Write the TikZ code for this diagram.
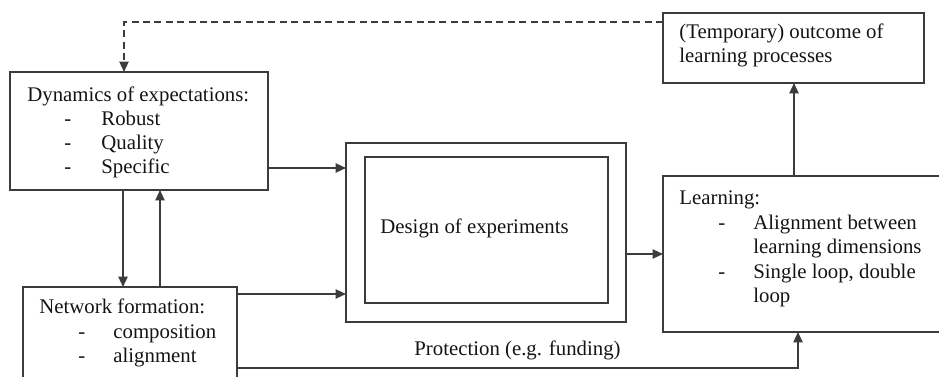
\documentclass[tikz,border=0pt]{standalone}
\usepackage{fontspec}
\setmainfont{Liberation Serif}
\usetikzlibrary{arrows.meta}
\definecolor{edge}{HTML}{3C3C3C}
\definecolor{ink}{HTML}{141418}
\begin{document}
\begin{tikzpicture}[x=0.5pt,y=-0.5pt,
  box/.style={draw=edge,line width=0.9pt},
  txt/.style={anchor=base west,inner sep=0pt,text=ink,font=\fontsize{10.4}{12.3}\selectfont},
  conn/.style={draw=edge,line width=0.9pt,-{Triangle[length=5.2pt,width=4.6pt]}},
  feedback/.style={conn,dash pattern=on 3.5pt off 2.2pt}]
\useasboundingbox (0,0) rectangle (939,376);
\clip (0,0) rectangle (939,376);

% boxes (corner to corner)
\draw[box] (10,72) rectangle (268,190);
\draw[box] (23,287) rectangle (237,395);
\draw[box] (346,143) rectangle (626,322);
\draw[box] (365,157) rectangle (608,303);
\draw[box] (663,176) rectangle (950,332);
\draw[box] (663,13) rectangle (924,83);

% named anchor points on the boxes
\coordinate (dynTopA) at (124,72);
\coordinate (dynBotA) at (123,190);
\coordinate (dynBotB) at (160,190);
\coordinate (dynE) at (268,168);
\coordinate (netTopA) at (123,287);
\coordinate (netTopB) at (160,287);
\coordinate (netE) at (237,294);
\coordinate (netELow) at (237,368);
\coordinate (desWa) at (346,168);
\coordinate (desWb) at (346,294);
\coordinate (desE) at (626,254);
\coordinate (lrnW) at (663,254);
\coordinate (lrnN) at (794,176);
\coordinate (lrnS) at (798,332);
\coordinate (outS) at (794,83);
\coordinate (outW) at (663,22);

% texts
\node[txt] (dynH) at (27,101) {Dynamics of expectations:};
\node[txt] (dynD1) at (64,125) {-};
\node[txt] (dynI1) at (101,125) {Robust};
\node[txt] (dynD2) at (64,149) {-};
\node[txt] (dynI2) at (101,149) {Quality};
\node[txt] (dynD3) at (64,173) {-};
\node[txt] (dynI3) at (101,173) {Specific};

\node[txt] (netH) at (39,313) {Network formation:};
\node[txt] (netD1) at (78,338) {-};
\node[txt] (netI1) at (113,338) {composition};
\node[txt] (netD2) at (78,362) {-};
\node[txt] (netI2) at (113,362) {alignment};

\node[txt] (desT) at (380,233) {Design of experiments};
\node[txt] (prot) at (414,355) {Protection (e.g. funding)};

\node[txt] (lrnH) at (679,204) {Learning:};
\node[txt] (lrnD1) at (718,229) {-};
\node[txt] (lrnI1a) at (753,229) {Alignment between};
\node[txt] (lrnI1b) at (753,253) {learning dimensions};
\node[txt] (lrnD2) at (718,278) {-};
\node[txt] (lrnI2a) at (753,278) {Single loop, double};
\node[txt] (lrnI2b) at (753,302) {loop};

\node[txt] (outL1) at (679,38) {(Temporary) outcome of};
\node[txt] (outL2) at (679,62) {learning processes};

% connectors
\draw[feedback] (outW) -| (dynTopA);
\draw[conn] (dynE) -- (desWa);
\draw[conn] (netE) -- (desWb);
\draw[conn] (dynBotA) -- (netTopA);
\draw[conn] (netTopB) -- (dynBotB);
\draw[conn] (desE) -- (lrnW);
\draw[conn] (lrnN) -- (outS);
\draw[conn] (netELow) -| (lrnS);
\end{tikzpicture}
\end{document}
